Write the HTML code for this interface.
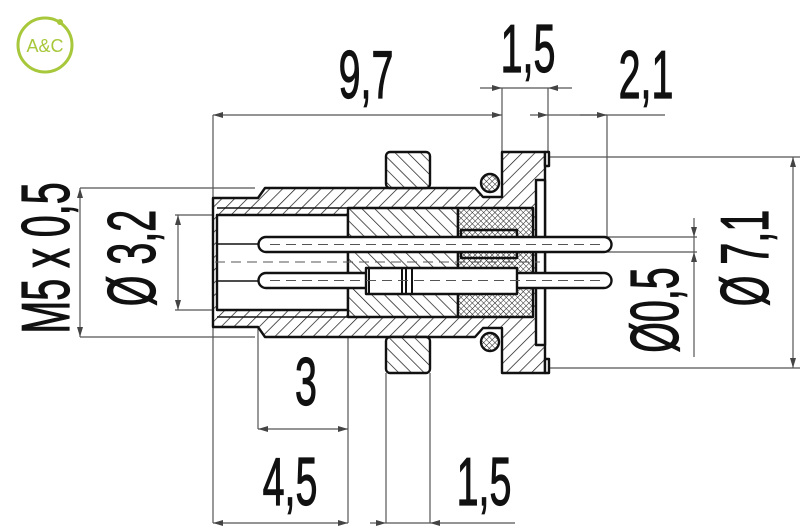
<!DOCTYPE html>
<html><head><meta charset="utf-8"><style>html,body{margin:0;padding:0;background:#fff}svg{display:block}</style></head>
<body>
<svg width="800" height="527" viewBox="0 0 800 527" xmlns="http://www.w3.org/2000/svg">
<defs>
<pattern id="h1" patternUnits="userSpaceOnUse" width="9" height="9" patternTransform="rotate(45)"><rect width="9" height="9" fill="#fff"/><line x1="0" y1="0" x2="0" y2="9" stroke="#111" stroke-width="1.4"/></pattern>
<pattern id="h2" patternUnits="userSpaceOnUse" width="9" height="9" patternTransform="rotate(-45)"><rect width="9" height="9" fill="#fff"/><line x1="0" y1="0" x2="0" y2="9" stroke="#111" stroke-width="1.4"/></pattern>
<pattern id="xh" patternUnits="userSpaceOnUse" width="4" height="4" patternTransform="rotate(45)"><rect width="4" height="4" fill="#fff"/><path d="M0 0V4M0 0H4" stroke="#222" stroke-width="1"/></pattern>
<marker id="a" viewBox="0 0 10 6" refX="10" refY="3" markerWidth="10" markerHeight="6" orient="auto-start-reverse" markerUnits="userSpaceOnUse"><path d="M0 0L10 3L0 6z" fill="#444"/></marker>
</defs>

<!-- logo -->
<circle cx="45" cy="45" r="27" fill="none" stroke="#a8c83c" stroke-width="3"/>
<circle cx="60" cy="22" r="3" fill="#a8c83c"/>
<text x="45" y="52" text-anchor="middle" font-family="Liberation Sans, sans-serif" font-size="18" fill="#a8c83c">A&amp;C</text>

<g stroke="#555" stroke-width="1.2" fill="none">
<path d="M213 115V523M502 88V152M548 88V152M607 115V240M258 252V429M348 317V523M386 373V523M430 373V523"/>
<path d="M548 157H800M548 368H800M600 237H697M600 252H697M80 188H255M80 337H255M175 215H217M175 310H217"/>
<path d="M213 115H502" marker-start="url(#a)" marker-end="url(#a)"/>
<path d="M480 88H502" marker-end="url(#a)"/><path d="M572 88H548" marker-end="url(#a)"/><path d="M502 88H548"/>
<path d="M530 115H548" marker-end="url(#a)"/><path d="M548 115H665"/><path d="M580 115H607" marker-end="url(#a)"/>
<path d="M793 157V368" marker-start="url(#a)" marker-end="url(#a)"/>
<path d="M694 218V237" marker-end="url(#a)"/><path d="M694 357V252" marker-end="url(#a)"/><path d="M694 237V252"/>
<path d="M80 188V337" marker-start="url(#a)" marker-end="url(#a)"/>
<path d="M178 215V310" marker-start="url(#a)" marker-end="url(#a)"/>
<path d="M258 429H348" marker-start="url(#a)" marker-end="url(#a)"/>
<path d="M213 523H348" marker-start="url(#a)" marker-end="url(#a)"/>
<path d="M370 523H386" marker-end="url(#a)"/><path d="M386 523H430"/><path d="M515 523H430" marker-end="url(#a)"/>
</g>

<g stroke="#111" stroke-width="2.4" stroke-linejoin="round">
<polygon points="213,198 258,198 265,188 475,188 483,197 502,197 502,152 545,152 545,373 502,373 502,328 483,328 475,337 265,337 258,327 213,327" fill="url(#h1)"/>
<rect x="217" y="215" width="131" height="95" fill="#fff"/>
<path d="M217 208H348M217 317H348" stroke-width="1.5" fill="none"/>
<rect x="348" y="208" width="110" height="109" fill="url(#h2)"/>
<rect x="458" y="208" width="75" height="109" fill="url(#xh)"/>
<rect x="386" y="152" width="44" height="36" rx="4" fill="url(#h2)"/>
<rect x="386" y="337" width="44" height="36" rx="4" fill="url(#h2)"/>
<circle cx="490" cy="183" r="9" fill="url(#xh)"/>
<circle cx="490" cy="342" r="9" fill="url(#xh)"/>
<rect x="536" y="180" width="9" height="165" fill="#fff"/>
<rect x="545" y="152" width="4" height="14" fill="#fff"/><rect x="545" y="359" width="4" height="14" fill="#fff"/>
<rect x="461" y="230" width="56" height="28" fill="url(#xh)"/>
<path d="M266 237H604a7.5 7.5 0 0 1 0 15H266a7.5 7.5 0 0 1 0-15z" fill="#fff"/>
<path d="M266 273H604a7.5 7.5 0 0 1 0 15H266a7.5 7.5 0 0 1 0-15z" fill="#fff"/>
<rect x="366" y="268" width="151" height="26" fill="#fff"/>
<path d="M366 268V294M369 268V294M402 268V294M406 268V294M412 268V294" stroke-width="2"/>
<path d="M217 244H258M217 281H258" stroke-width="1.5"/>
</g>
<g stroke="#555" stroke-width="1" stroke-dasharray="10 6" fill="none">
<path d="M270 244.5H600M270 280.5H600M215 262H540"/>
</g>

<g font-family="Liberation Sans, sans-serif" font-size="68" fill="#111" stroke="#111" stroke-width="1.2">
<text transform="translate(366 98) scale(0.58 1)" text-anchor="middle">9,7</text>
<text transform="translate(528 72) scale(0.58 1)" text-anchor="middle">1,5</text>
<text transform="translate(646 98) scale(0.58 1)" text-anchor="middle">2,1</text>
<text transform="translate(306 405) scale(0.58 1)" text-anchor="middle">3</text>
<text transform="translate(290 505) scale(0.58 1)" text-anchor="middle">4,5</text>
<text transform="translate(484 505) scale(0.58 1)" text-anchor="middle">1,5</text>
<text transform="translate(768 258) rotate(-90) scale(0.58 1)" text-anchor="middle">Ø 7,1</text>
<text transform="translate(678 310) rotate(-90) scale(0.58 1)" text-anchor="middle">Ø0,5</text>
<text transform="translate(155 258) rotate(-90) scale(0.58 1)" text-anchor="middle">Ø 3,2</text>
<text transform="translate(69 258) rotate(-90) scale(0.58 1)" text-anchor="middle">M5 x 0,5</text>
</g>
</svg>
</body></html>
